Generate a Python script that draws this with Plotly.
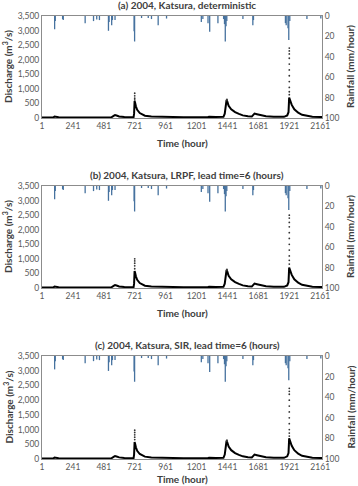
import plotly.graph_objects as go

# ---------------- data ----------------
x_ticks = [1, 241, 481, 721, 961, 1201, 1441, 1681, 1921, 2161]

# rainfall events: hour, depth (mm/hour)
rain_t = [99, 104, 161, 166, 336, 401, 426, 447, 517, 522, 542, 548, 568, 716, 720, 774, 826, 851,
          903, 968, 1238, 1250, 1290, 1303, 1367, 1411, 1418, 1424, 1430, 1436, 1561, 1638, 1643,
          1891, 1897, 1911, 1917, 1925, 2058, 2166]
rain_v = [13, 5, 3, 4, 7, 5, 3.5, 4, 14.5, 6, 9, 4, 4, 15, 25, 2, 2, 3,
          9, 2.5, 6, 3, 7, 15.5, 7, 3, 8, 25, 10, 5, 3, 9, 4,
          7, 9, 12, 23.5, 5, 3, 2.5]

# observed discharge hydrograph: hour, m3/s
obs_t = [1, 90, 99, 110, 130, 300, 540, 560, 568, 580, 600, 640, 700, 712, 716, 720, 724, 730, 740,
         760, 780, 800, 850, 900, 903, 950, 1100, 1290, 1300, 1350, 1410, 1420, 1428, 1434, 1440,
         1450, 1470, 1500, 1530, 1560, 1600, 1630, 1640, 1651, 1670, 1700, 1740, 1800, 1880, 1905,
         1915, 1920, 1924, 1930, 1940, 1960, 1990, 2020, 2060, 2100, 2184]
obs_q = [20, 20, 50, 35, 25, 20, 25, 80, 100, 85, 55, 35, 25, 25, 150, 580, 520, 400, 280,
         170, 110, 80, 55, 45, 50, 35, 25, 35, 45, 35, 40, 150, 400, 620, 560,
         420, 300, 200, 140, 90, 60, 50, 100, 150, 130, 90, 60, 40, 40, 90,
         200, 700, 650, 600, 450, 300, 180, 110, 70, 45, 30]

# simulated peak points for each panel (hour, m3/s)
sim_a_t = [721, 721, 721, 721, 1437, 1437, 1921, 1921, 1921, 1921, 1921, 1921, 1921, 1921, 1921, 1921, 1921]
sim_a_q = [850, 760, 680, 620, 640, 600, 2400, 2300, 2200, 2050, 1850, 1650, 1450, 1250, 1050, 900, 800]
sim_b_t = [721, 721, 721, 721, 721, 1437, 1437, 1921, 1921, 1921, 1921, 1921, 1921, 1921, 1921, 1921, 1921, 1921]
sim_b_q = [1000, 930, 850, 760, 660, 640, 600, 2500, 2400, 2250, 2100, 1900, 1700, 1500, 1300, 1100, 950, 820]
sim_c_t = [721, 721, 721, 721, 721, 1437, 1437, 1921, 1921, 1921, 1921, 1921, 1921, 1921, 1921, 1921, 1921, 1921]
sim_c_q = [980, 900, 820, 740, 660, 640, 600, 2400, 2300, 2200, 2000, 1800, 1600, 1400, 1200, 1000, 880, 780]

titles = ["(a) 2004, Katsura, deterministic",
          "(b) 2004, Katsura, LRPF, lead time=6 (hours)",
          "(c) 2004, Katsura, SIR, lead time=6 (hours)"]
sims = [(sim_a_t, sim_a_q), (sim_b_t, sim_b_q), (sim_c_t, sim_c_q)]

# rainfall spikes as vertical segments built from the event lists
spike_x, spike_y = [], []
for t, v in zip(rain_t, rain_v):
    spike_x += [t, t, None]
    spike_y += [0, v, None]

# ---------------- layout ----------------
W, H = 358, 486
px_l, px_r = 42, 322
panels_px = [(16, 118), (186, 288), (356, 459)]  # top, bottom pixel rows

fig = go.Figure()
FONT = "Lato, Open Sans, sans-serif"
tick_font = dict(family=FONT, size=8.5, color="#595959")
line_col = "#8c8c8c"

layout = dict(width=W, height=H, margin=dict(l=0, r=0, t=0, b=0),
              paper_bgcolor="white", plot_bgcolor="white", showlegend=False,
              font=dict(family=FONT))
annotations = []

for i, (top, bot) in enumerate(panels_px):
    n = i + 1
    xa = "x" if n == 1 else f"x{n}"
    ya = f"y{2*n-1}" if n > 1 else "y"
    yb = f"y{2*n}"
    dom_y = [1 - bot / H, 1 - top / H]
    dom_x = [px_l / W, px_r / W]

    # rainfall spikes (hanging from the top)
    fig.add_trace(go.Scatter(x=spike_x, y=spike_y, mode="lines", xaxis=xa, yaxis=yb,
                             line=dict(color="#46729f", width=1.3), connectgaps=False))
    # observed line
    fig.add_trace(go.Scatter(x=obs_t, y=obs_q, mode="lines", xaxis=xa, yaxis=ya,
                             line=dict(color="black", width=2)))
    st, sq = sims[i]
    fig.add_trace(go.Scatter(x=st, y=sq, mode="markers", xaxis=xa, yaxis=ya,
                             marker=dict(color="#333333", size=1.8)))

    xkey = "xaxis" if n == 1 else f"xaxis{n}"
    ykey = "yaxis" if n == 1 else f"yaxis{2*n-1}"
    y2key = f"yaxis{2*n}"
    layout[xkey] = dict(domain=dom_x, anchor=ya,
                        range=[1, 2175], tickvals=x_ticks, ticktext=[str(v) for v in x_ticks],
                        tickfont=tick_font, showline=True, linecolor=line_col, linewidth=1,
                        mirror=True, showgrid=False, zeroline=False, ticks="", automargin=False)
    layout[ykey] = dict(domain=dom_y, anchor=xa, range=[0, 3500], dtick=500, tickformat=",d",
                        tickfont=tick_font, showline=True, linecolor=line_col, linewidth=1,
                        showgrid=False, zeroline=False, ticks="", automargin=False)
    layout[y2key] = dict(domain=dom_y, anchor=xa, overlaying=ya, side="right",
                         range=[100, 0], dtick=20, tickfont=tick_font, showline=True,
                         linecolor=line_col, linewidth=1, showgrid=False, zeroline=False,
                         ticks="", automargin=False)

    mid = (top + bot) / 2
    annotations.append(dict(text=f"<b>{titles[i]}</b>", x=187 / W, y=1 - (top - 11) / H,
                            xref="paper", yref="paper", showarrow=False,
                            font=dict(family=FONT, size=10, color="#404040"),
                            xanchor="center", yanchor="middle"))
    annotations.append(dict(text="<b>Time (hour)</b>", x=182 / W,
                            y=1 - min(bot + 25, H - 7) / H,
                            xref="paper", yref="paper", showarrow=False,
                            font=dict(family=FONT, size=10, color="#404040"),
                            xanchor="center", yanchor="middle"))
    annotations.append(dict(text="<b>Discharge (m<sup>3</sup>/s)</b>", x=8 / W, y=1 - mid / H,
                            xref="paper", yref="paper", showarrow=False, textangle=-90,
                            font=dict(family=FONT, size=10, color="#404040"),
                            xanchor="center", yanchor="middle"))
    annotations.append(dict(text="<b>Rainfall (mm/hour)</b>", x=350 / W, y=1 - mid / H,
                            xref="paper", yref="paper", showarrow=False, textangle=-90,
                            font=dict(family=FONT, size=10, color="#404040"),
                            xanchor="center", yanchor="middle"))

layout["annotations"] = annotations
fig.update_layout(**layout)
fig.write_html("out.html")
